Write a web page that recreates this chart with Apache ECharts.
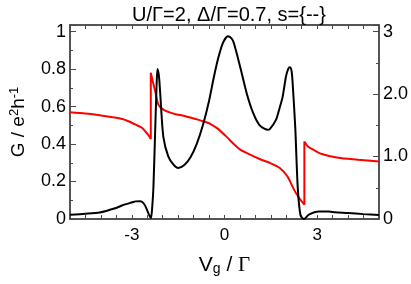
<!DOCTYPE html>
<html>
<head>
<meta charset="utf-8">
<script src="https://cdn.jsdelivr.net/npm/echarts@6/dist/echarts.min.js"></script>
<style>html,body{margin:0;padding:0;background:#fff}#c{width:411px;height:284px}</style>
</head>
<body>
<div id="c"></div>
<script>
// Black curve: conductance G (left axis), [Vg/Γ, G]
const vgBlack = [-5.0,-4.5,-4.04,-3.51,-3.3,-2.98,-2.88,-2.72,-2.6,-2.51,-2.44,-2.38,-2.34,-2.30,-2.24,-2.20,-2.17,-2.12,-2.08,-1.98,-1.82,-1.65,-1.50,-1.30,-1.10,-0.90,-0.70,-0.50,-0.34,-0.20,-0.05,0.11,0.22,0.30,0.51,0.72,0.93,1.14,1.39,1.46,1.67,1.78,1.88,1.99,2.06,2.12,2.17,2.20,2.29,2.37,2.46,2.57,2.73,3.05,3.37,3.58,4.0,4.5,5.0];
const gBlack  = [0.023,0.028,0.035,0.059,0.073,0.089,0.094,0.095,0.08,0.05,0.022,0.005,0.06,0.17,0.49,0.70,0.80,0.76,0.67,0.44,0.334,0.29,0.272,0.288,0.33,0.40,0.50,0.63,0.76,0.86,0.94,0.975,0.965,0.94,0.81,0.67,0.565,0.50,0.476,0.478,0.53,0.59,0.65,0.76,0.80,0.81,0.79,0.74,0.49,0.17,0.02,0.0,0.023,0.04,0.04,0.036,0.032,0.026,0.021];
// Red curve: right axis, [Vg/Γ, value]
const vgRed = [-5.0,-4.5,-4.15,-3.62,-3.3,-3.09,-2.88,-2.67,-2.56,-2.46,-2.385,-2.385,-2.30,-2.24,-2.14,-1.98,-1.8,-1.61,-1.3,-1.08,-0.86,-0.66,-0.45,-0.23,0.08,0.3,0.51,0.83,1.14,1.46,1.78,2.04,2.25,2.41,2.585,2.585,2.70,2.84,3.15,3.68,4.32,5.0];
const rRed  = [1.71,1.69,1.67,1.63,1.60,1.56,1.51,1.46,1.40,1.34,1.28,2.34,2.16,2.04,1.83,1.75,1.71,1.68,1.65,1.62,1.59,1.56,1.52,1.45,1.31,1.20,1.11,1.03,0.96,0.90,0.82,0.68,0.47,0.34,0.23,1.24,1.16,1.12,1.04,0.98,0.95,0.92];
// Tick labels
const xTickLabels = [-3, 0, 3];
const leftTickLabels = {0:'0',0.2:'0.2',0.4:'0.4',0.6:'0.6',0.8:'0.8',1:'1'};
const rightTickLabels = {0:'0',1:'1.0',2:'2.0',3:'3'};

const black = vgBlack.map((x,i)=>[x,gBlack[i]]);
const red = vgRed.map((x,i)=>[x,rRed[i]]);

const frame = '#4a4a4a';
const chart = echarts.init(document.getElementById('c'), null, {renderer:'canvas'});
const lblFont = 'Liberation Sans, Arial, Helvetica, sans-serif';
chart.setOption({
  animation:false,
  backgroundColor:'#fff',
  title:{text:'U/Γ=2, Δ/Γ=0.7, s={--}', left:224, textAlign:'center', top:0,
    textStyle:{fontSize:20, fontWeight:'normal', color:'#000', fontFamily:lblFont}},
  grid:{left:66, right:29, top:25, bottom:65, containLabel:false, show:true, borderColor:frame, borderWidth:1.5},
  xAxis:[{
    type:'value', min:-5, max:5, interval:0.5, position:'bottom',
    axisLine:{show:true, onZero:false, lineStyle:{color:frame, width:1.5}},
    axisTick:{show:true, inside:true, length:4, lineStyle:{color:frame, width:1}},
    splitLine:{show:false},
    axisLabel:{color:'#000', fontSize:17, fontFamily:lblFont, margin:8,
      formatter:v=>xTickLabels.some(t=>Math.abs(t-v)<1e-9)?String(v):''},
    name:'{v|V}{g|g}{r| / }{G|Γ}', nameLocation:'middle', nameGap:36,
    nameTextStyle:{rich:{
      v:{fontSize:21, fontFamily:lblFont, color:'#000'},
      g:{fontSize:14, fontFamily:lblFont, color:'#000', padding:[0,0,-8,0]},
      r:{fontSize:21, fontFamily:lblFont, color:'#000'},
      G:{fontSize:21, fontFamily:'Liberation Serif, Times New Roman, serif', color:'#000'}
    }}
  },{
    type:'value', min:-5, max:5, interval:0.5, position:'top',
    axisLine:{show:true, onZero:false, lineStyle:{color:frame, width:1.5}},
    axisTick:{show:true, inside:true, length:4, lineStyle:{color:frame, width:1}},
    splitLine:{show:false}, axisLabel:{show:false}
  }],
  yAxis:[{
    type:'value', min:0, max:1.035, interval:0.2, position:'left',
    axisLine:{show:true, onZero:false, lineStyle:{color:frame, width:1.5}},
    axisTick:{show:true, inside:true, length:6, lineStyle:{color:frame, width:1}},
    minorTick:{show:true, splitNumber:2, length:3, lineStyle:{color:frame, width:1}},
    splitLine:{show:false},
    axisLabel:{color:'#000', fontSize:18, fontFamily:lblFont, margin:4, showMaxLabel:false,
      formatter:v=>{const k=Math.round(v*10)/10; return (Math.abs(v-k)<1e-6 && leftTickLabels[k]!==undefined)?leftTickLabels[k]:'';}},
    name:'{a|G / e}{s|2}{a|h}{s|-1}', nameLocation:'middle', nameGap:40,
    nameTextStyle:{rich:{
      a:{fontSize:19, fontFamily:lblFont, color:'#000'},
      s:{fontSize:13, fontFamily:lblFont, color:'#000', padding:[0,0,9,0]}
    }}
  },{
    type:'value', min:0, max:3.105, interval:1, position:'right',
    axisLine:{show:true, onZero:false, lineStyle:{color:frame, width:1.5}},
    axisTick:{show:true, inside:true, length:6, lineStyle:{color:frame, width:1}},
    minorTick:{show:true, splitNumber:2, length:3, lineStyle:{color:frame, width:1}},
    splitLine:{show:false},
    axisLabel:{color:'#000', fontSize:18, fontFamily:lblFont, margin:4, showMaxLabel:false,
      formatter:v=>{const k=Math.round(v); return (Math.abs(v-k)<1e-6 && rightTickLabels[k]!==undefined)?rightTickLabels[k]:'';}}
  }],
  series:[
    {type:'line', name:'red', xAxisIndex:0, yAxisIndex:1, data:red, showSymbol:false, smooth:0.25,
      lineStyle:{color:'#ff0000', width:2}, z:2},
    {type:'line', name:'black', xAxisIndex:0, yAxisIndex:0, data:black, showSymbol:false, smooth:0.25,
      lineStyle:{color:'#000', width:2}, z:3}
  ]
});
</script>
</body>
</html>
